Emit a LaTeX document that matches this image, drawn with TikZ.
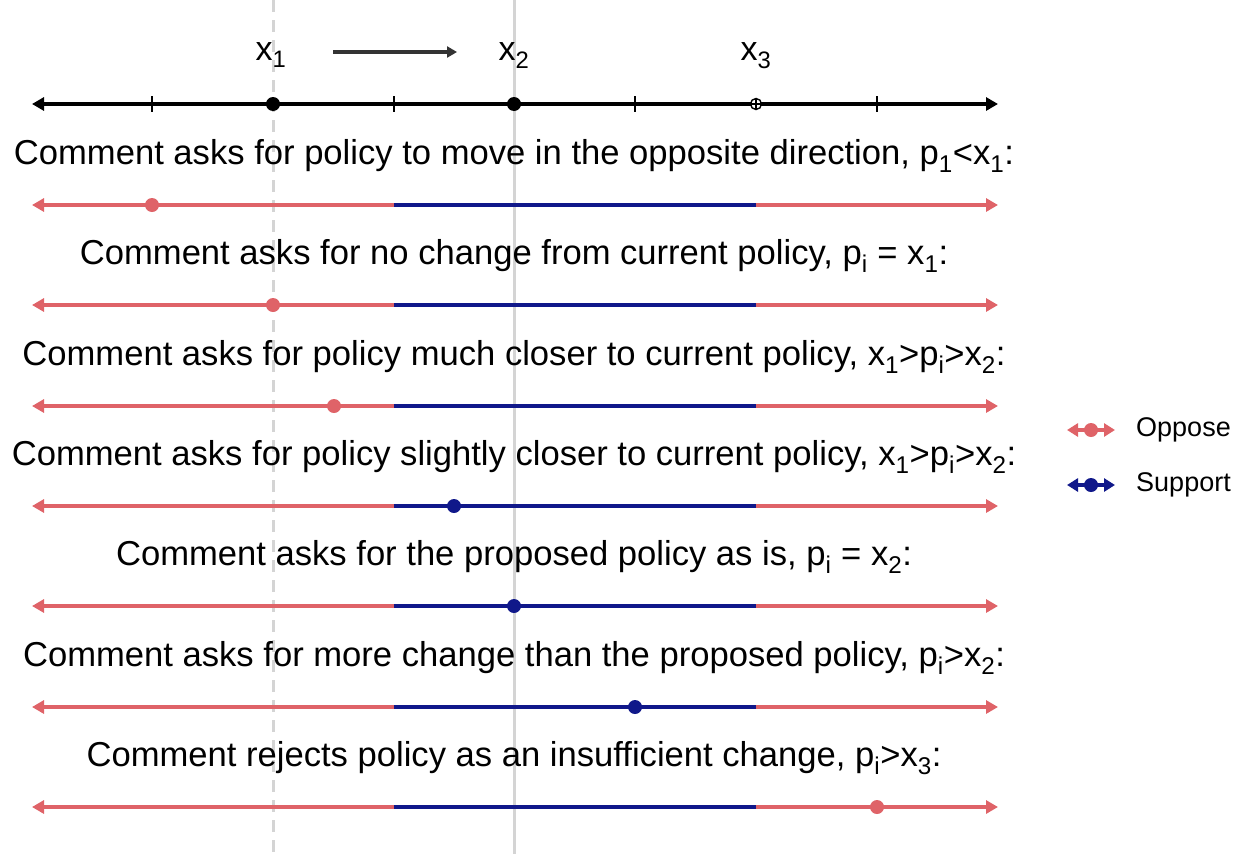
\documentclass[tikz,border=0pt]{standalone}
\usepackage{fontspec}
\setmainfont{Liberation Sans}
\usetikzlibrary{arrows.meta}
\definecolor{opp}{RGB}{223,99,104}
\definecolor{sup}{RGB}{16,24,138}
\definecolor{vgray}{RGB}{212,212,212}
\tikzset{
  rowtext/.style={anchor=base, font=\fontsize{34.6}{36}\selectfont, inner sep=0},
  toplab/.style={anchor=base, font=\fontsize{34}{36}\selectfont, inner sep=0},
  seg/.style={line width=4pt},
  opptip/.style={-{Triangle[length=12pt,width=13pt]}},
  dotopp/.style={circle, fill=opp, inner sep=0, minimum size=14pt},
  dotsup/.style={circle, fill=sup, inner sep=0, minimum size=14pt},
  legtext/.style={anchor=west, font=\fontsize{27}{29}\selectfont, inner sep=0},
}
\newcommand{\sbs}[1]{\textsubscript{#1}}
\begin{document}
\begin{tikzpicture}[x=1pt,y=-1pt]
\useasboundingbox (0,0) rectangle (1246,854);
% vertical reference lines
\draw[vgray, line width=3pt, dash pattern=on 12pt off 8pt] (273,0) -- (273,854);
\draw[vgray, line width=3pt] (514,0) -- (514,854);
% top axis
\draw[line width=3.6pt, {Triangle[length=12pt,width=13pt]}-{Triangle[length=12pt,width=13pt]}] (32,104) -- (998,104);
\foreach \t in {152,394,635,877} \draw[line width=1.3pt] (\t,96) -- (\t,112);
\node[circle, fill=black, inner sep=0, minimum size=14pt] (d1) at (273,104) {};
\node[circle, fill=black, inner sep=0, minimum size=14pt] (d2) at (514,104) {};
\node[circle, draw=black, line width=1.4pt, fill=white, inner sep=0, minimum size=11pt] (d3) at (756,104) {};
\draw[line width=1.4pt] (d3.north) -- (d3.south) (d3.west) -- (d3.east);
\node[toplab] (lx1) at (271,60) {x\sbs{1}};
\node[toplab] (lx2) at (514,60) {x\sbs{2}};
\node[toplab] (lx3) at (756,60) {x\sbs{3}};
\coordinate (ma) at (333,52);
\coordinate (mb) at (457,52);
\draw[line width=3.4pt, black!80, -{Triangle[length=10pt,width=11pt]}] (ma) -- (mb);
% rows
\foreach \y/\px/\c/\txt in {
 205/152/opp/{Comment asks for policy to move in the opposite direction, p\sbs{1}<x\sbs{1}:},
 305/273/opp/{Comment asks for no change from current policy, p\sbs{i} = x\sbs{1}:},
 406/334/opp/{Comment asks for policy much closer to current policy, x\sbs{1}>p\sbs{i}>x\sbs{2}:},
 506/454/sup/{Comment asks for policy slightly closer to current policy, x\sbs{1}>p\sbs{i}>x\sbs{2}:},
 606/514/sup/{Comment asks for the proposed policy as is, p\sbs{i} = x\sbs{2}:},
 707/635/sup/{Comment asks for more change than the proposed policy, p\sbs{i}>x\sbs{2}:},
 807/877/opp/{Comment rejects policy as an insufficient change, p\sbs{i}>x\sbs{3}:}} {
  \node[rowtext] (t\y) at (514,\y-41) {\txt};
  \draw[seg, opp, {Triangle[length=12pt,width=13pt]}-] (32,\y) -- (394,\y);
  \draw[seg, sup] (394,\y) -- (756,\y);
  \draw[seg, opp, opptip] (756,\y) -- (998,\y);
  \node[circle, fill=\c, inner sep=0, minimum size=14pt] (p\y) at (\px,\y) {};
}
% legend
\draw[line width=4pt, opp, {Triangle[length=11pt,width=13pt]}-{Triangle[length=11pt,width=13pt]}] (1067,430) -- (1115,430);
\node[dotopp] (lo) at (1091,430) {};
\node[legtext] (lot) at (1136,430) {Oppose};
\draw[line width=4pt, sup, {Triangle[length=11pt,width=13pt]}-{Triangle[length=11pt,width=13pt]}] (1067,485) -- (1115,485);
\node[dotsup] (ls) at (1091,485) {};
\node[legtext] (lst) at (1136,485) {Support};
\end{tikzpicture}
\end{document}
